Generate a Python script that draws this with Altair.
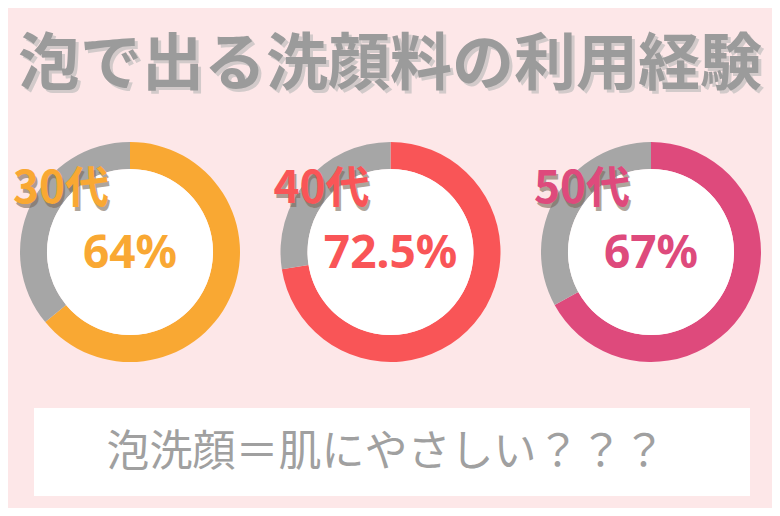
import altair as alt
import pandas as pd

# ---- data ----
title_text = ["泡で出る洗顔料の利用経験"]
ages = ["30代", "40代", "50代"]
used = [64, 72.5, 67]
pct_labels = ["64%", "72.5%", "67%"]
caption = ["泡洗顔＝肌にやさしい？？？"]
other_key = "未利用"

# ---- styles ----
colors = ["#F9A833", "#F95557", "#DE4A7C"]
gray = "#A6A6A6"
bg = "#FDE7E8"

rows = []
for a, v in zip(ages, used):
    rows.append({"age": a, "key": a, "order": 0, "value": v})
    rows.append({"age": a, "key": other_key, "order": 1, "value": 100 - v})
ring = pd.DataFrame(rows)
centers = pd.DataFrame({"age": ages, "label": pct_labels})
title_df = pd.DataFrame({"t": title_text})
cap_df = pd.DataFrame({"t": caption})

xscale = alt.Scale(type="point", domain=ages, range=[122, 643], padding=0)
cscale = alt.Scale(domain=ages + [other_key], range=colors + [gray])
X = alt.X("age:N", scale=xscale, axis=None)
CY = 244

arcs = alt.Chart(ring).transform_stack(
    stack="value", groupby=["age"], as_=["v0", "v1"],
    sort=[alt.SortField("order", order="ascending")]
).mark_arc(innerRadius=83, outerRadius=110, stroke=None).encode(
    x=X,
    y=alt.value(CY),
    theta=alt.Theta("v0:Q", scale=alt.Scale(domain=[0, 100], range=[0, 6.283185307])),
    theta2="v1:Q",
    color=alt.Color("key:N", scale=cscale, legend=None),
)

inner = alt.Chart(centers).mark_arc(
    innerRadius=0, outerRadius=83, theta=0, theta2=6.283185307, color="white"
).encode(x=X, y=alt.value(CY))

pct = alt.Chart(centers).mark_text(
    font="Noto Sans", fontSize=46, fontWeight="bold", baseline="middle", align="center"
).encode(
    x=X, y=alt.value(CY + 2), text="label:N",
    color=alt.Color("age:N", scale=cscale, legend=None),
)

age_shadow = alt.Chart(centers).mark_text(
    font="Noto Sans CJK JP", fontSize=44, fontWeight="bold", baseline="alphabetic",
    align="left", dx=-115, dy=2, color="#7A6A5A", opacity=0.6
).encode(x=X, y=alt.value(197), text="age:N")

age_lbl = alt.Chart(centers).mark_text(
    font="Noto Sans CJK JP", fontSize=44, fontWeight="bold", baseline="alphabetic",
    align="left", dx=-117
).encode(
    x=X, y=alt.value(195), text="age:N",
    color=alt.Color("age:N", scale=cscale, legend=None),
)

title_shadow = alt.Chart(title_df).mark_text(
    font="Noto Sans CJK JP", fontSize=62, fontWeight="bold", baseline="middle",
    align="center", color="#D2CACA"
).encode(x=alt.value(385), y=alt.value(61), text="t:N")

title = alt.Chart(title_df).mark_text(
    font="Noto Sans CJK JP", fontSize=62, fontWeight="bold", baseline="middle",
    align="center", color="#9B9B9B"
).encode(x=alt.value(382), y=alt.value(58), text="t:N")

box = alt.Chart(cap_df).mark_rect(color="white").encode(
    x=alt.value(26), x2=alt.value(742), y=alt.value(400), y2=alt.value(488)
)

cap = alt.Chart(cap_df).mark_text(
    font="Noto Sans CJK JP", fontSize=43, fontWeight="normal", baseline="middle",
    align="center", color="#A0A0A0"
).encode(x=alt.value(378), y=alt.value(445), text="t:N")

chart = alt.layer(
    title_shadow, title, arcs, inner, pct, age_shadow, age_lbl, box, cap
).resolve_scale(color="shared").properties(
    width=764, height=500, padding=0, autosize="none", background=bg
).configure_view(stroke=None)

chart.save("out.html", embed_options={"renderer": "svg", "actions": False})
